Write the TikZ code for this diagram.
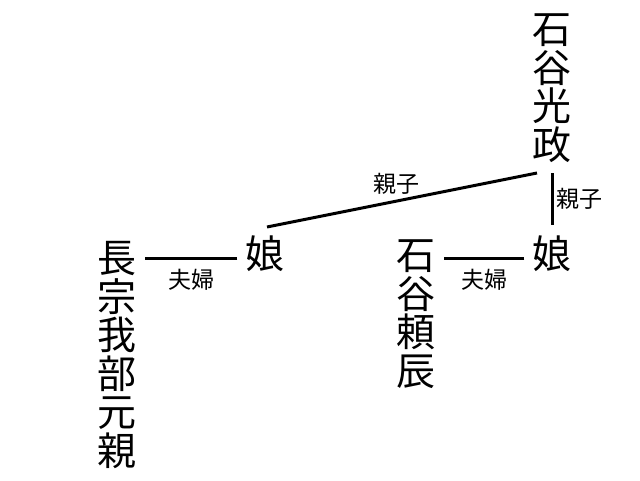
\documentclass[tikz,border=0pt]{standalone}
\usepackage{fontspec}
\newfontfamily\jpfont{Noto Sans CJK JP}
\begin{document}
\begin{tikzpicture}[x=1pt,y=-1pt,
  person/.style={font=\jpfont\fontsize{39}{38.5}\selectfont, align=center, inner ysep=5pt, inner xsep=8pt},
  rel/.style={font=\jpfont\fontsize{23}{26}\selectfont, inner sep=1pt},
  link/.style={line width=3pt}]
\useasboundingbox (0,0) rectangle (640,480);
\node[person] (mitsu) at (552,88) {石\\谷\\光\\政};
\node[person] (musR) at (552,254) {娘};
\node[person] (musL) at (265,254) {娘};
\node[person] (yorito) at (416,314) {石\\谷\\頼\\辰};
\node[person] (moto) at (117,355) {長\\宗\\我\\部\\元\\親};
\coordinate (diagA) at (537,173);
\coordinate (diagB) at (267,227);
\draw[link] (diagA) -- (diagB) node[rel, pos=0.52, above=4pt] (l1) {親子};
\coordinate (vA) at (552,173);
\coordinate (vB) at (552,225);
\draw[link] (vA) -- (vB) node[rel, midway, right=2pt] (l2) {親子};
\draw[link] ([yshift=-4pt]musR.west) -- ([yshift=-4pt]yorito.east |- musR.west) node[rel, midway, below=9pt] (l3) {夫婦};
\draw[link] ([yshift=-4pt]musL.west) -- ([yshift=-4pt]moto.east |- musL.west) node[rel, midway, below=9pt] (l4) {夫婦};
\end{tikzpicture}
\end{document}
